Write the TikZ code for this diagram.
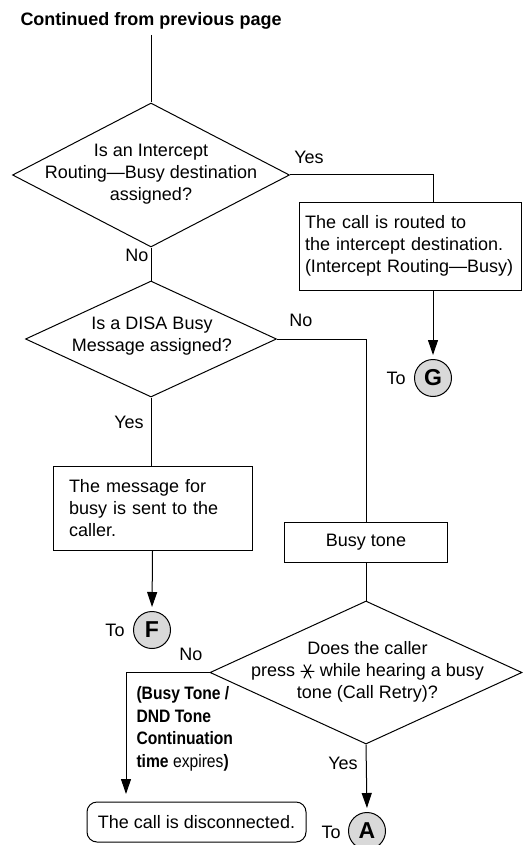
\documentclass[tikz,border=0pt]{standalone}
\usepackage{fontspec}
\setmainfont{Liberation Sans}
\newfontfamily\narrowfont[FakeStretch=0.87]{Liberation Sans}
\usetikzlibrary{shapes.geometric,arrows.meta}
\newcommand{\retrystar}{\tikz[baseline=-0.5ex,line width=1.1pt]{\draw (-0.38em,0)--(0.38em,0) (-0.2em,-0.38em)--(0.2em,0.38em) (-0.2em,0.38em)--(0.2em,-0.38em);}}
\begin{document}
\begin{tikzpicture}[x=1pt,y=-1pt,line width=1pt,
  font=\fontsize{18}{22}\selectfont,
  dia/.style={draw,diamond,inner sep=0pt},
  dtext/.style={align=center,inner sep=0pt},
  box/.style={draw,rectangle,inner sep=0pt},
  conn/.style={circle,draw,fill=black!15,minimum size=37pt,inner sep=0pt,font=\fontsize{23}{23}\selectfont\bfseries},
  lbl/.style={inner sep=0pt},
  arr/.style={-{Triangle[length=15pt,width=10pt]}}]
\useasboundingbox (0,0) rectangle (522,845);

% title
\node[lbl,anchor=west,font=\fontsize{18}{22}\selectfont\bfseries] (title) at (20,21) {Continued from previous page};
\coordinate (top) at (151,35);

% decision 1
\node[dia,minimum width=277pt,minimum height=144pt] (d1) at (151,175) {};
\node[dtext] (d1t) at (151,174) {Is an Intercept\\Routing—Busy destination\\assigned?};

% box 1
\node[box,minimum width=222pt,minimum height=88pt,text width=210pt,inner xsep=6pt,align=left] (b1) at (410,246)
  {The call is routed to\\the intercept destination.\\(Intercept Routing—Busy)};
\node[conn] (g) at (433,378) {G};
\node[lbl] (tog) at (396,378) {To};

% decision 2
\node[dia,minimum width=251pt,minimum height=116pt] (d2) at (151,339) {};
\node[dtext] (d2t) at (152,336) {Is a DISA Busy\\Message assigned?};

% box 2
\node[box,minimum width=199pt,minimum height=84pt,text width=167pt,inner xsep=16pt,align=left] (b2) at (152.5,508.5)
  {The message for\\busy is sent to the\\caller.};
\node[conn] (f) at (152,630) {F};
\node[lbl] (tof) at (115,630) {To};

% busy tone
\node[box,minimum width=163pt,minimum height=40pt] (busy) at (366,542) {Busy tone};

% decision 3
\node[dia,minimum width=312pt,minimum height=143pt] (d3) at (366,672.5) {};
\node[dtext] (d3t) at (367.5,671.5) {Does the caller\\press \retrystar{} while hearing a busy\\tone (Call Retry)?};

% end
\node[draw,rounded corners=10pt,minimum width=219pt,minimum height=40pt,inner sep=0pt] (disc) at (196.5,822) {The call is disconnected.};
\node[conn] (a) at (367,831) {A};
\node[lbl] (toa) at (331,832) {To};
\coordinate (discin) at (126,802);

% labels
\node[lbl] (y1) at (309,157) {Yes};
\node[lbl] (n1) at (137,255) {No};
\node[lbl] (n2) at (301,320) {No};
\node[lbl] (y2) at (129,422) {Yes};
\node[lbl] (n3) at (191,654) {No};
\node[lbl] (y3) at (343,763) {Yes};
\node[lbl,anchor=west,align=left,font=\fontsize{18}{22.6}\narrowfont] (exp) at (136,729)
  {\bfseries(Busy Tone /\\\bfseries DND Tone\\\bfseries Continuation\\\textbf{time} expires\textbf{)}};

% connectors
\draw (top) -- (d1.north);
\draw (d1.east) -| (g |- b1.north);
\draw[arr,shorten >=4pt] (g |- b1.south) -- (g.north);
\draw (d1.south) -- (d2.north);
\draw (d2.south) -- (d2.south |- b2.north);
\draw[arr,shorten >=4pt] (b2.south) -- (f.north);
\draw (d2.east) -| (busy.north);
\draw (busy.south) -- (d3.north);
\draw[arr,shorten >=4pt] (d3.south) -- (a.north);
\draw[arr,shorten >=8pt] (d3.west) -| (discin);
\end{tikzpicture}
\end{document}
